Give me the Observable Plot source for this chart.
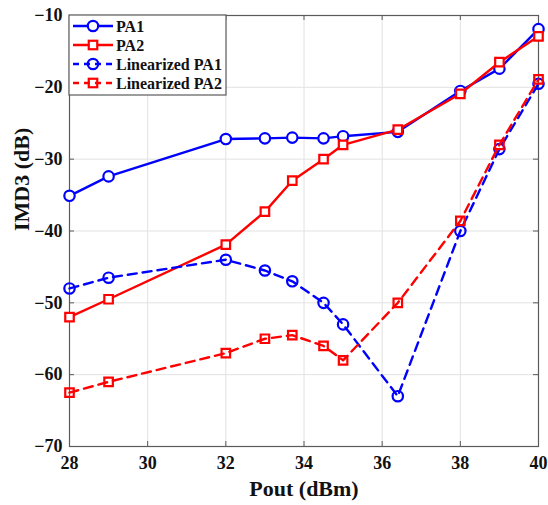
<!DOCTYPE html>
<html>
<head>
<meta charset="utf-8">
<script src="https://cdn.jsdelivr.net/npm/d3@7"></script>
<script src="https://cdn.jsdelivr.net/npm/@observablehq/plot@0.6"></script>
<style>
  body { margin: 0; background: #fff; }
  #chart { width: 548px; height: 505px; }
</style>
</head>
<body>
<div id="chart"></div>
<script>
// Output power sweep (dBm) shared by all four measurements
const pout = [28, 29, 32, 33, 33.7, 34.5, 35, 36.4, 38, 39, 40];

// IMD3 (dB) for each amplifier, before and after linearization
const pa1 = [-35.1, -32.4, -27.2, -27.1, -27.0, -27.1, -26.8, -26.2, -20.5, -17.4, -11.9];
const pa2 = [-52.0, -49.5, -41.9, -37.3, -33.0, -30.0, -28.0, -25.9, -20.9, -16.5, -12.9];
const linPa1 = [-48.0, -46.5, -44.0, -45.5, -47.0, -50.0, -53.0, -63.0, -40.0, -28.6, -19.5];
const linPa2 = [-62.5, -61.0, -57.0, -55.0, -54.5, -56.0, -58.0, -50.0, -38.6, -28.0, -18.9];

const seriesNames = ["PA1", "PA2", "Linearized PA1", "Linearized PA2"];
const xTicks = [28, 30, 32, 34, 36, 38, 40];
const yTicks = [-70, -60, -50, -40, -30, -20, -10];

// Styling for each series: colour, marker symbol, dash pattern, marker fill
const styles = [
  {color: "#0000ff", symbol: "circle", dash: null, fill: "white", r: 5.2},
  {color: "#ff0000", symbol: "square", dash: null, fill: "white", r: 4.8},
  {color: "#0000ff", symbol: "circle", dash: "9,6", fill: "none", r: 5.2},
  {color: "#ff0000", symbol: "square", dash: "9,6", fill: "none", r: 4.8}
];

const values = [pa1, pa2, linPa1, linPa2];
const series = seriesNames.map((name, i) => ({
  name,
  style: styles[i],
  rows: pout.map((p, j) => ({pout: p, imd3: values[i][j]}))
}));

const W = 548, H = 505, mL = 69, mR = 10, mT = 15, mB = 59;
const plotW = W - mL - mR, plotH = H - mT - mB;
const serif = "'Liberation Serif', 'Times New Roman', serif";
const frameColor = "#5a5a5a";
const tickLen = 5;

const marks = [
  Plot.gridX(xTicks, {stroke: "#e2e2e2", strokeOpacity: 1}),
  Plot.gridY(yTicks, {stroke: "#e2e2e2", strokeOpacity: 1}),
  // Inward ticks on all four sides of the box
  Plot.tickX(xTicks, {x: d => d, insetTop: plotH - tickLen, stroke: frameColor}),
  Plot.tickX(xTicks, {x: d => d, insetBottom: plotH - tickLen, stroke: frameColor}),
  Plot.tickY(yTicks, {y: d => d, insetRight: plotW - tickLen, stroke: frameColor}),
  Plot.tickY(yTicks, {y: d => d, insetLeft: plotW - tickLen, stroke: frameColor}),
  Plot.frame({stroke: frameColor, strokeWidth: 1.2}),
  Plot.axisX(xTicks, {tickSize: 0, tickPadding: 10, fontSize: 18, fontWeight: "bold", fill: "#111", label: null}),
  Plot.axisY(yTicks, {tickSize: 0, tickPadding: 7, fontSize: 18, fontWeight: "bold", fill: "#111", label: null}),
  Plot.text(["Pout (dBm)"], {frameAnchor: "bottom", lineAnchor: "middle", dy: 42, fontSize: 22, fontWeight: "bold", fill: "#111"}),
  Plot.text(["IMD3 (dB)"], {frameAnchor: "left", rotate: -90, dx: -48, fontSize: 22, fontWeight: "bold", fill: "#111"})
];

for (const s of series) {
  marks.push(Plot.line(s.rows, {
    x: "pout", y: "imd3", stroke: s.style.color, strokeWidth: 2.4,
    strokeDasharray: s.style.dash, strokeLinejoin: "round"
  }));
  marks.push(Plot.dot(s.rows, {
    x: "pout", y: "imd3", symbol: s.style.symbol, r: s.style.r,
    stroke: s.style.color, strokeWidth: 2.2, fill: s.style.fill
  }));
}

const svg = Plot.plot({
  width: W, height: H,
  marginLeft: mL, marginRight: mR, marginTop: mT, marginBottom: mB,
  style: {fontFamily: serif, background: "white", overflow: "visible"},
  x: {domain: [28, 40], label: null},
  y: {domain: [-70, -10], label: null},
  marks
});

// Legend box in the upper-left corner of the axes
const lg = d3.select(svg).append("g").attr("transform", `translate(${mL},${mT})`);
lg.append("rect")
  .attr("x", 0).attr("y", 0).attr("width", 157).attr("height", 80)
  .attr("fill", "white").attr("stroke", frameColor).attr("stroke-width", 1.2);

series.forEach((s, i) => {
  const cy = 11 + i * 19;
  const g = lg.append("g").attr("transform", `translate(0,${cy})`);
  g.append("line")
    .attr("x1", 4).attr("x2", 44).attr("y1", 0).attr("y2", 0)
    .attr("stroke", s.style.color).attr("stroke-width", 2.4)
    .attr("stroke-dasharray", s.style.dash ? "6,5" : null);
  if (s.style.symbol === "circle") {
    g.append("circle").attr("cx", 24).attr("cy", 0).attr("r", 5.2)
      .attr("fill", s.style.fill).attr("stroke", s.style.color).attr("stroke-width", 2.2);
  } else {
    g.append("rect").attr("x", 19.75).attr("y", -4.25).attr("width", 8.5).attr("height", 8.5)
      .attr("fill", s.style.fill).attr("stroke", s.style.color).attr("stroke-width", 2.2);
  }
  g.append("text")
    .attr("x", 47).attr("y", 0).attr("dy", "0.35em")
    .attr("text-anchor", "start")
    .attr("font-family", serif).attr("font-weight", "bold").attr("font-size", 16)
    .attr("fill", "#111")
    .text(s.name);
});

document.getElementById("chart").appendChild(svg);
</script>
</body>
</html>
